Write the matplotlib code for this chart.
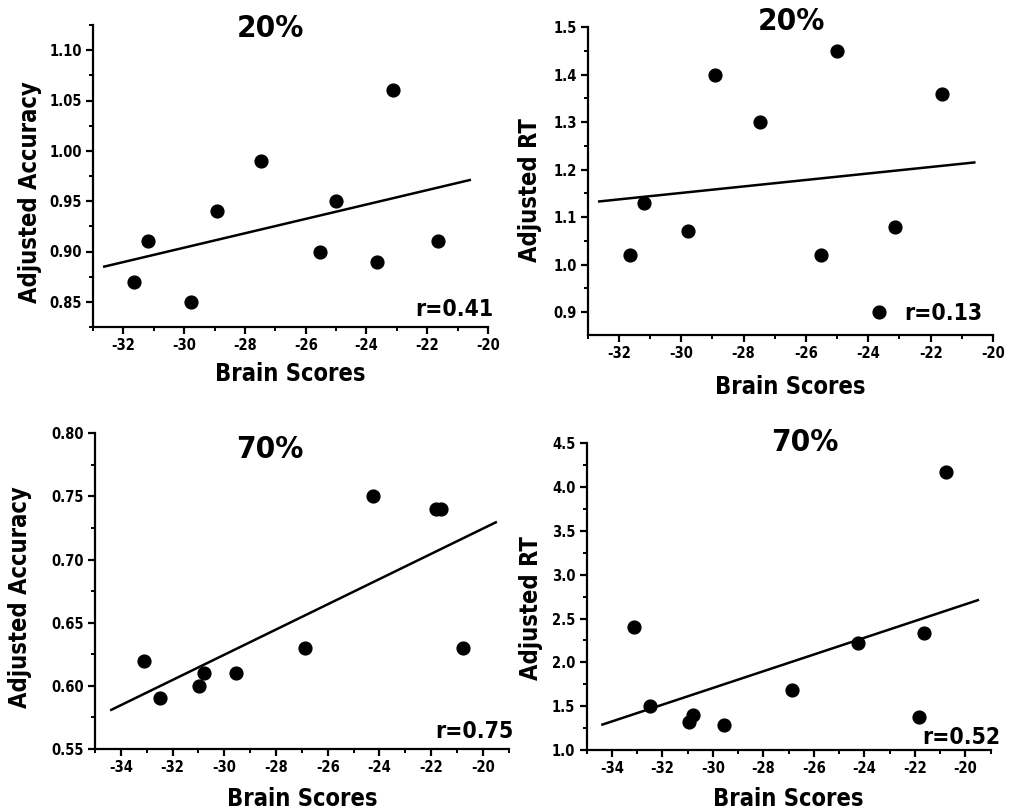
import numpy as np
import matplotlib
matplotlib.use("Agg")
import matplotlib.pyplot as plt
from matplotlib.ticker import MultipleLocator, FormatStrFormatter

plt.rcParams["font.family"] = ["DejaVu Sans"]
plt.rcParams["font.stretch"] = "condensed"
plt.rcParams["font.weight"] = "bold"

# brain scores of the subjects, 20% and 70% conditions
brain_20 = [-31.64, -31.19, -29.78, -28.91, -27.46, -25.53, -25.0, -23.66, -23.13, -21.64]
brain_70 = [-33.1, -32.5, -30.96, -30.77, -29.56, -26.86, -24.25, -21.83, -21.62, -20.76]

acc_20 = [0.87, 0.91, 0.85, 0.94, 0.99, 0.90, 0.95, 0.89, 1.06, 0.91]
rt_20 = [1.02, 1.13, 1.07, 1.40, 1.30, 1.02, 1.45, 0.90, 1.08, 1.36]
acc_70 = [0.62, 0.59, 0.60, 0.61, 0.61, 0.63, 0.75, 0.74, 0.74, 0.63]
rt_70 = [2.40, 1.50, 1.32, 1.40, 1.29, 1.68, 2.22, 1.38, 2.34, 4.17]

# fitted lines (end points)
fit_x_20 = [-32.63, -20.6]
fit_x_70 = [-34.37, -19.5]
fit_acc_20 = [0.885, 0.971]
fit_rt_20 = [1.133, 1.215]
fit_acc_70 = [0.581, 0.7295]
fit_rt_70 = [1.29, 2.71]

r_values = ["r=0.41", "r=0.13", "r=0.75", "r=0.52"]
titles = ["20%", "20%", "70%", "70%"]
ylabels = ["Adjusted Accuracy", "Adjusted RT", "Adjusted Accuracy", "Adjusted RT"]

W, H = 1013, 811
fig = plt.figure(figsize=(W / 100, H / 100), dpi=100)


def px_axes(left, right, top, bottom):
    return fig.add_axes([left / W, 1 - bottom / H, (right - left) / W, (bottom - top) / H])


panels = [
    dict(box=(93, 488, 25, 327), x=brain_20, y=acc_20, fx=fit_x_20, fy=fit_acc_20,
         xlim=(-33, -20), ylim=(0.825, 1.125), ymaj=0.05, fmt="%.2f",
         title_pos=(0.448, 0.987), r_pos=(1.013, 0.036),
         ylab_pos=(-0.130, 0.447), xlab_y=-0.116),
    dict(box=(587.7, 993, 27, 335), x=brain_20, y=rt_20, fx=fit_x_20, fy=fit_rt_20,
         xlim=(-33, -20), ylim=(0.852, 1.5), ymaj=0.1, fmt="%.1f",
         title_pos=(0.503, 1.018), r_pos=(0.975, 0.049),
         ylab_pos=(-0.112, 0.47), xlab_y=-0.13),
    dict(box=(95, 508.7, 433.3, 749), x=brain_70, y=acc_70, fx=fit_x_70, fy=fit_acc_70,
         xlim=(-35, -19), ylim=(0.55, 0.80), ymaj=0.05, fmt="%.2f",
         title_pos=(0.423, 0.948), r_pos=(1.012, 0.035),
         ylab_pos=(-0.152, 0.48), xlab_y=-0.12),
    dict(box=(586.5, 990.5, 443.3, 750), x=brain_70, y=rt_70, fx=fit_x_70, fy=fit_rt_70,
         xlim=(-35, -19), ylim=(1.0, 4.5), ymaj=0.5, fmt="%.1f",
         title_pos=(0.541, 1.003), r_pos=(1.025, 0.02),
         ylab_pos=(-0.107, 0.463), xlab_y=-0.12),
]

for i, p in enumerate(panels):
    ax = px_axes(*p["box"])
    ax.scatter(p["x"], p["y"], s=85, color="black", zorder=3, clip_on=False)
    ax.plot(p["fx"], p["fy"], color="black", lw=1.8)
    ax.set_xlim(*p["xlim"])
    ax.set_ylim(*p["ylim"])

    for side in ("top", "right"):
        ax.spines[side].set_visible(False)
    for side in ("left", "bottom"):
        ax.spines[side].set_linewidth(1.6)

    ax.xaxis.set_major_locator(MultipleLocator(2))
    ax.xaxis.set_minor_locator(MultipleLocator(1))
    ax.yaxis.set_major_locator(MultipleLocator(p["ymaj"]))
    ax.yaxis.set_minor_locator(MultipleLocator(p["ymaj"] / 2))
    ax.yaxis.set_major_formatter(FormatStrFormatter(p["fmt"]))
    ax.xaxis.set_major_formatter(FormatStrFormatter("%d"))
    ax.tick_params(which="major", direction="out", length=5, width=1.6,
                   labelsize=10.5, pad=3)
    ax.tick_params(which="minor", direction="out", length=3, width=1.4)
    for lab in ax.get_xticklabels() + ax.get_yticklabels():
        lab.set_fontweight("bold")

    ax.set_xlabel("Brain Scores", fontsize=17, fontweight="bold")
    ax.xaxis.set_label_coords(0.5, p["xlab_y"])
    ax.set_ylabel(ylabels[i], fontsize=17, fontweight="bold")
    ax.yaxis.set_label_coords(*p["ylab_pos"])

    ax.text(*p["title_pos"], titles[i], transform=ax.transAxes, fontsize=22.5,
            fontweight="bold", ha="center", va="center")
    ax.text(*p["r_pos"], r_values[i], transform=ax.transAxes, fontsize=16.5,
            fontweight="bold", ha="right", va="baseline")

fig.savefig("out.png", dpi=100)
